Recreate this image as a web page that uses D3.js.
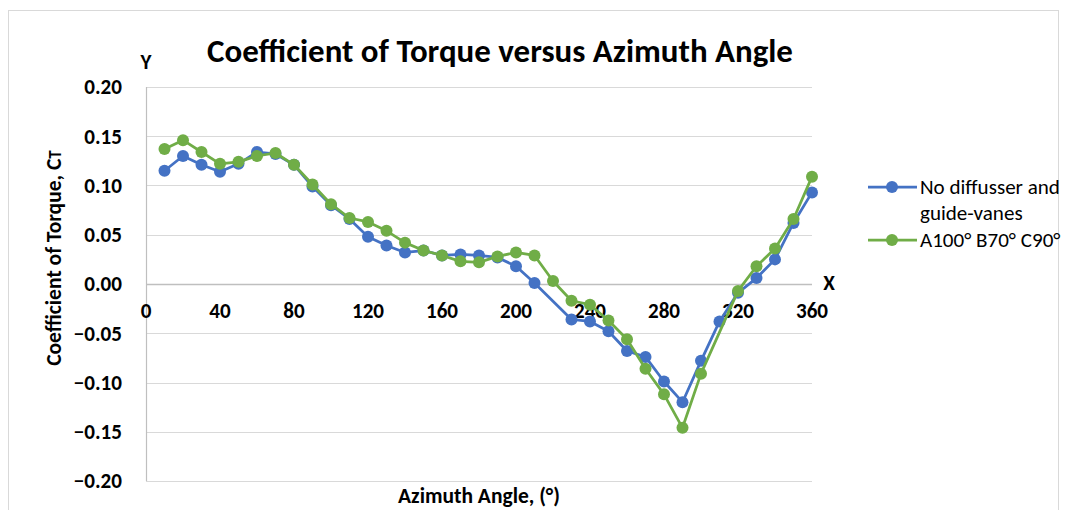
<!DOCTYPE html>
<html>
<head>
<meta charset="utf-8">
<script src="https://cdn.jsdelivr.net/npm/d3@7"></script>
<style>
html,body{margin:0;padding:0;background:#fff;}
svg{display:block;}
text{font-family:Carlito,Calibri,"Liberation Sans",Arial,sans-serif;}
</style>
</head>
<body>
<svg id="chart" width="1066" height="510"></svg>
<script>
const angles = [10,20,30,40,50,60,70,80,90,100,110,120,130,140,150,160,170,180,190,200,210,220,230,240,250,260,270,280,290,300,310,320,330,340,350,360];
const noDiffuser = [0.115,0.130,0.121,0.114,0.122,0.134,0.132,0.121,0.099,0.080,0.066,0.048,0.039,0.032,0.034,0.029,0.030,0.029,0.027,0.018,0.001,null,-0.036,-0.038,-0.048,-0.068,-0.074,-0.099,-0.120,-0.078,-0.038,-0.009,0.006,0.025,0.062,0.093];
const a100b70c90 = [0.137,0.146,0.134,0.122,0.124,0.130,0.133,0.121,0.101,0.081,0.067,0.063,0.054,0.042,0.034,0.029,0.023,0.022,0.028,0.032,0.029,0.003,-0.017,-0.021,-0.037,-0.056,-0.086,-0.112,-0.146,-0.091,null,-0.007,0.018,0.036,0.066,0.109];
const seriesNames = ["No diffusser and|guide-vanes","A100° B70° C90°"];
const seriesColors = ["#4472C4","#70AD47"];
const xTicks = [0,40,80,120,160,200,240,280,320,360];
const yTicks = [0.20,0.15,0.10,0.05,0.00,-0.05,-0.10,-0.15,-0.20];

const svg = d3.select("#chart");

// font size fitting helper: returns size that makes sample text reach target width
function fitSize(sample, weight, target){
  const t = svg.append("text").attr("font-size",100).attr("font-weight",weight).text(sample);
  const w = t.node().getComputedTextLength();
  t.remove();
  return 100*target/w;
}
const titleSize = fitSize("Coefficient of Torque versus Azimuth Angle","bold",586);
const tickSize = (fitSize("200","bold",31)+fitSize("0.20","bold",39))/2;
const xTitleSize = fitSize("Azimuth Angle, (°)","bold",162);
const legSize = fitSize("No diffusser and","normal",140);

svg.append("rect").attr("x",8.5).attr("y",10.5).attr("width",1050).attr("height",510)
  .attr("fill","#fff").attr("stroke","#d9d9d9").attr("stroke-width",1);

const x = d3.scaleLinear().domain([0,360]).range([146,812]);
const y = d3.scaleLinear().domain([-0.20,0.20]).range([481,87]);

svg.append("g").selectAll("line").data(yTicks).join("line")
  .attr("x1",x(0)).attr("x2",x(360))
  .attr("y1",d=>Math.round(y(d))+0.5).attr("y2",d=>Math.round(y(d))+0.5)
  .attr("stroke",d=>d===0?"#bfbfbf":"#d9d9d9").attr("stroke-width",d=>d===0?1.5:1.2);
svg.append("line").attr("x1",x(0)+0.5).attr("x2",x(0)+0.5).attr("y1",y(0.20)).attr("y2",y(-0.20))
  .attr("stroke","#bfbfbf").attr("stroke-width",1.2);

svg.append("g").selectAll("text").data(yTicks).join("text")
  .attr("x",122).attr("y",d=>y(d)).attr("dy","0.35em")
  .attr("text-anchor","end").attr("font-size",tickSize).attr("font-weight","bold").attr("fill","#000")
  .text(d=>d3.format(".2f")(d));
svg.append("g").selectAll("text").data(xTicks).join("text")
  .attr("x",d=>x(d)).attr("y",311).attr("dy","0.35em")
  .attr("text-anchor","middle").attr("font-size",tickSize).attr("font-weight","bold").attr("fill","#000")
  .text(d=>d);

svg.append("text").attr("x",146).attr("y",62).attr("dy","0.35em").attr("text-anchor","middle")
  .attr("font-size",tickSize).attr("font-weight","bold").text("Y");
svg.append("text").attr("x",829).attr("y",283).attr("dy","0.35em").attr("text-anchor","middle")
  .attr("font-size",tickSize).attr("font-weight","bold").text("X");

svg.append("text").attr("x",500).attr("y",50).attr("dy","0.35em").attr("text-anchor","middle")
  .attr("font-size",titleSize).attr("font-weight","bold")
  .text("Coefficient of Torque versus Azimuth Angle");

const yt = svg.append("text").attr("transform","translate(53,258) rotate(-90)").attr("text-anchor","middle")
  .attr("dy","0.35em").attr("font-size",xTitleSize).attr("font-weight","bold");
yt.append("tspan").text("Coefficient of Torque, C");
yt.append("tspan").attr("font-size",xTitleSize*0.8).text("T");
svg.append("text").attr("x",479).attr("y",495).attr("dy","0.35em").attr("text-anchor","middle")
  .attr("font-size",xTitleSize).attr("font-weight","bold").text("Azimuth Angle, (°)");

const allSeries = [noDiffuser, a100b70c90];
const line = d3.line().x(d=>x(d[0])).y(d=>y(d[1]));
allSeries.forEach((vals,i)=>{
  const pts = angles.map((a,j)=>[a,vals[j]]).filter(d=>d[1]!==null);
  const g = svg.append("g");
  g.append("path").datum(pts).attr("d",line).attr("fill","none")
    .attr("stroke",seriesColors[i]).attr("stroke-width",2.75).attr("stroke-linejoin","round");
  g.selectAll("circle").data(pts).join("circle")
    .attr("cx",d=>x(d[0])).attr("cy",d=>y(d[1])).attr("r",6).attr("fill",seriesColors[i]);
});

const legY = [187,240];
seriesNames.forEach((name,i)=>{
  const g = svg.append("g");
  g.append("line").attr("x1",868).attr("x2",917).attr("y1",legY[i]).attr("y2",legY[i])
    .attr("stroke",seriesColors[i]).attr("stroke-width",2.75);
  g.append("circle").attr("cx",892).attr("cy",legY[i]).attr("r",6).attr("fill",seriesColors[i]);
  name.split("|").forEach((ln,k)=>{
    g.append("text").attr("x",920).attr("y",legY[i]+k*26).attr("dy","0.35em")
      .attr("font-size",legSize).attr("fill","#000").text(ln);
  });
});
</script>
</body>
</html>
